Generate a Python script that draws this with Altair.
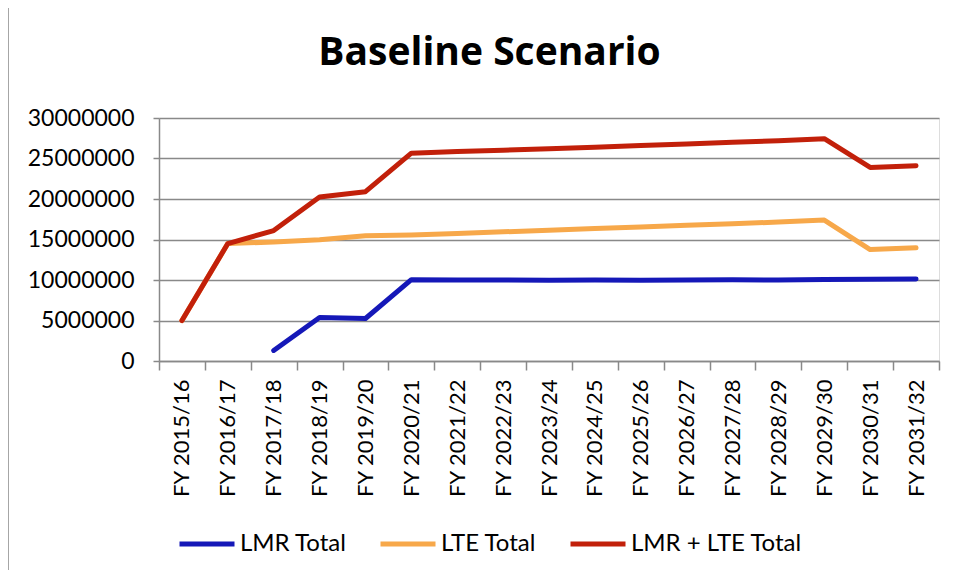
import altair as alt
import pandas as pd

years = ["FY 2015/16", "FY 2016/17", "FY 2017/18", "FY 2018/19", "FY 2019/20",
         "FY 2020/21", "FY 2021/22", "FY 2022/23", "FY 2023/24", "FY 2024/25",
         "FY 2025/26", "FY 2026/27", "FY 2027/28", "FY 2028/29", "FY 2029/30",
         "FY 2030/31", "FY 2031/32"]
lmr_total = [None, None, 1300000, 5370000, 5250000, 10040000, 10000000, 10000000,
             9960000, 10000000, 9980000, 10000000, 10020000, 10000000, 10050000,
             10080000, 10120000]
lte_total = [5000000, 14500000, 14700000, 14960000, 15450000, 15550000, 15750000,
             15950000, 16150000, 16350000, 16550000, 16750000, 16950000, 17150000,
             17400000, 13760000, 13970000]
combined_total = [5000000, 14500000, 16100000, 20250000, 20900000, 25660000, 25850000,
                  26030000, 26200000, 26400000, 26600000, 26800000, 27000000, 27200000,
                  27440000, 23900000, 24100000]
series_names = ["LMR Total", "LTE Total", "LMR + LTE Total"]
series_colors = ["#1518b8", "#f7a84a", "#c2200a"]
y_ticks = [0, 5000000, 10000000, 15000000, 20000000, 25000000, 30000000]

rows = []
for name, vals in zip(series_names, [lmr_total, lte_total, combined_total]):
    for yr, v in zip(years, vals):
        rows.append({"year": yr, "series": name, "value": v})
df = pd.DataFrame(rows)

FONT = "Lato"
GRAY = "#898989"

x_enc = alt.X("year:N", sort=years,
              scale=alt.Scale(type="band", paddingInner=0, paddingOuter=0),
              axis=alt.Axis(title=None, labelAngle=270, labelFont=FONT, labelFontSize=22,
                            labelColor="#000000", labelPadding=9, tickSize=9,
                            tickColor=GRAY, tickWidth=1.5, domainColor=GRAY,
                            domainWidth=1.5, tickBand="extent", grid=False))
y_enc = alt.Y("value:Q",
              scale=alt.Scale(domain=[0, 30000000], nice=False),
              axis=alt.Axis(title=None, values=y_ticks, format="d", labelFont=FONT,
                            labelFontSize=23, labelColor="#000000", labelPadding=19,
                            tickSize=6, tickColor=GRAY, tickWidth=1.5,
                            domainColor=GRAY, domainWidth=1.5, grid=True,
                            gridColor=GRAY, gridWidth=1.5))
color_enc = alt.Color("series:N",
                      scale=alt.Scale(domain=series_names, range=series_colors),
                      legend=alt.Legend(title=None, orient="none", legendX=18, legendY=396,
                                        direction="horizontal", symbolType="stroke",
                                        symbolSize=3025, symbolStrokeWidth=5,
                                        labelFont=FONT, labelFontSize=24,
                                        labelColor="#000000", labelOffset=3,
                                        labelLimit=400, columnPadding=23, padding=0))

layers = []
for name in series_names:
    layers.append(
        alt.Chart(df).transform_filter(alt.datum.series == name)
        .mark_line(strokeWidth=5, strokeCap="round", strokeJoin="round")
        .encode(x=x_enc, y=y_enc, color=color_enc)
    )

border = alt.Chart(pd.DataFrame({"a": [0]})).mark_rule(color=GRAY, strokeWidth=1.5).encode(
    x=alt.value(-151), y=alt.value(-110), y2=alt.value(452))

chart = alt.layer(border, *layers).properties(
    width=780, height=243,
    title=alt.TitleParams("Baseline Scenario", font="Open Sans", fontSize=39,
                          fontWeight="bold", color="#000000", anchor="middle",
                          baseline="alphabetic", offset=0, dy=97, dx=-59.5),
    autosize=alt.AutoSizeParams(type="none"),
    padding={"left": 151, "top": 110, "right": 9, "bottom": 209},
).configure_view(stroke=None).configure(background="white")

chart.save("out.html", embed_options={"renderer": "svg", "actions": False})
